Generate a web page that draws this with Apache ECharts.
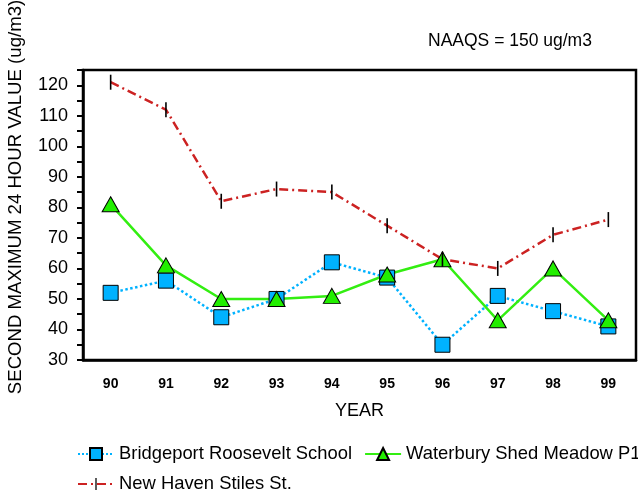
<!DOCTYPE html>
<html>
<head>
<meta charset="utf-8">
<script src="https://cdn.jsdelivr.net/npm/echarts@6/dist/echarts.min.js"></script>
<style>
html,body{margin:0;padding:0;background:#fff;}
#chart{width:638px;height:491px;}
</style>
</head>
<body>
<div id="chart"></div>
<script>
var years = ['90','91','92','93','94','95','96','97','98','99'];
var bridgeport = [52, 56, 44, 50, 62, 57, 35, 51, 46, 41];
var waterbury = [81, 61, 50, 50, 51, 58, 63, 43, 60, 43];
var newHaven = [121, 112, 82, 86, 85, 74, 63, 60, 71, 76];
var seriesNames = ['Bridgeport Roosevelt School', 'Waterbury Shed Meadow P1', 'New Haven Stiles St.'];
var titleText = 'NAAQS = 150 ug/m3';
var yName = 'SECOND MAXIMUM 24 HOUR VALUE (ug/m3)';
var xName = 'YEAR';

var FONT = '"Liberation Sans", Arial, Helvetica, sans-serif';
// vertical bar marker inside a square bounding box
var BAR = 'path://M0,0L0,0M15,15L15,15M6.7,0L8.3,0L8.3,15L6.7,15Z';
var chart = echarts.init(document.getElementById('chart'), null, {renderer: 'canvas'});
chart.setOption({
  animation: false,
  backgroundColor: '#fff',
  textStyle: {fontFamily: FONT, color: '#000'},
  title: {
    text: titleText,
    left: 423, top: 27,
    textStyle: {fontFamily: FONT, fontSize: 17.5, fontWeight: 'normal', color: '#000'}
  },
  legend: {
    left: 72, top: 440, width: 600,
    itemWidth: 36, itemHeight: 15, itemGap: 12,
    textStyle: {fontFamily: FONT, fontSize: 18.4, color: '#000', lineHeight: 15},
    data: seriesNames
  },
  grid: {
    left: 83, top: 70, right: 2, bottom: 131,
    containLabel: false,
    outerBoundsMode: 'none',
    show: true, borderColor: '#000', borderWidth: 2.5, backgroundColor: 'transparent'
  },
  xAxis: {
    type: 'category',
    data: years,
    boundaryGap: true,
    name: xName,
    nameLocation: 'middle',
    nameGap: 42,
    nameTextStyle: {fontFamily: FONT, fontSize: 18, color: '#000'},
    axisLine: {lineStyle: {color: '#000', width: 2.5}},
    axisTick: {alignWithLabel: true, length: 9, lineStyle: {color: '#000', width: 2}},
    axisLabel: {fontFamily: FONT, fontSize: 14, fontWeight: 'bold', color: '#000', margin: 17},
    splitLine: {show: false}
  },
  yAxis: {
    type: 'value',
    min: 30, max: 125, interval: 5,
    name: yName,
    nameLocation: 'middle',
    nameGap: 58,
    nameTextStyle: {fontFamily: FONT, fontSize: 18.6, color: '#000', padding: [0, 0, 0, 36]},
    axisLine: {show: true, lineStyle: {color: '#000', width: 2.5}},
    axisTick: {show: true, length: 6, lineStyle: {color: '#000', width: 2}},
    axisLabel: {
      fontFamily: FONT, fontSize: 18, color: '#000', margin: 15,
      formatter: function (v) { return v % 10 === 0 ? String(v) : ''; }
    },
    splitLine: {show: false}
  },
  series: [
    {
      name: seriesNames[0], type: 'line', data: bridgeport,
      symbol: 'rect', symbolSize: 15,
      lineStyle: {color: '#00B2FF', width: 2.5, type: 'dotted'},
      itemStyle: {color: '#00B2FF', borderColor: '#000', borderWidth: 1}
    },
    {
      name: seriesNames[1], type: 'line', data: waterbury,
      symbol: 'triangle', symbolSize: [17, 15],
      lineStyle: {color: '#33EE11', width: 2.5, type: 'solid'},
      itemStyle: {color: '#22EE00', borderColor: '#000', borderWidth: 1}
    },
    {
      name: seriesNames[2], type: 'line', data: newHaven,
      symbol: BAR, symbolSize: 15,
      lineStyle: {color: '#CC2222', width: 2.5, type: [9, 4, 2, 4]},
      itemStyle: {color: '#000', borderWidth: 0}
    }
  ]
});
</script>
</body>
</html>
